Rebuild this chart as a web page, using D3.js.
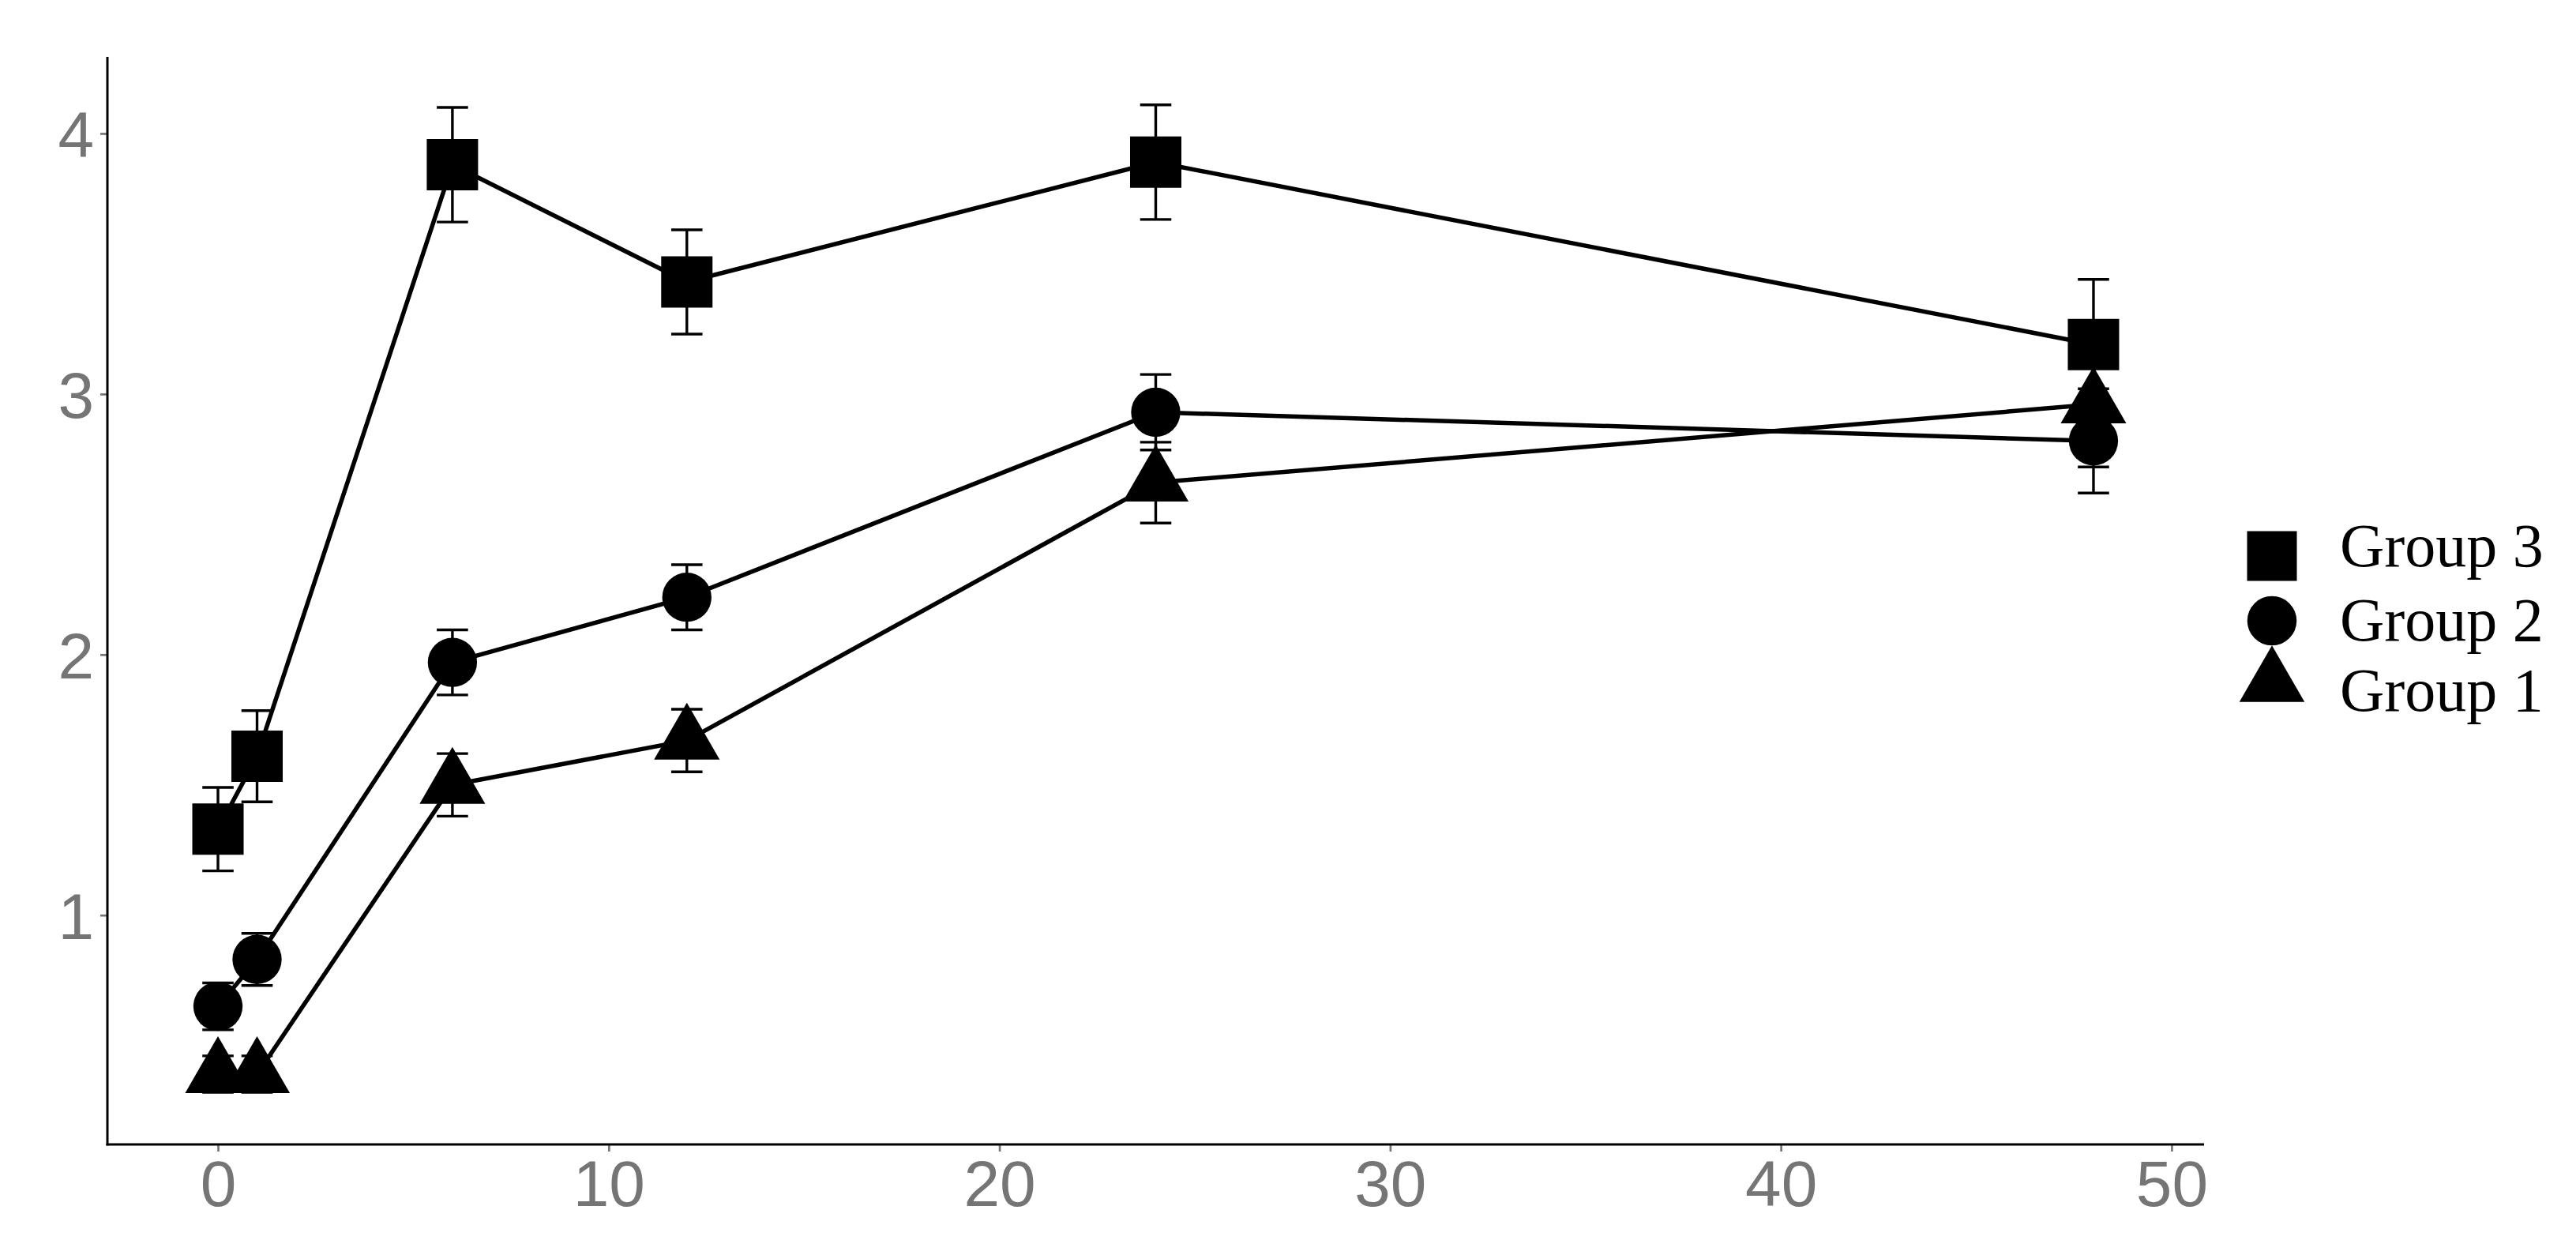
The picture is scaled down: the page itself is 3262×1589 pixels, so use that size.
<!DOCTYPE html>
<html>
<head>
<meta charset="utf-8">
<script src="https://cdn.jsdelivr.net/npm/d3@7"></script>
<style>
  html, body { margin: 0; padding: 0; background: #fff; }
  svg { display: block; }
</style>
</head>
<body>
<svg id="chart"></svg>
<script>
// time points (x) and per-group means / error half-widths
const times = [0, 1, 6, 12, 24, 48];
const groupNames = ['Group 1', 'Group 2', 'Group 3'];
const group1Mean = [0.39, 0.39, 1.50, 1.67, 2.66, 2.96];
const group1Err = [0.07, 0.07, 0.12, 0.12, 0.155, 0.24];
const group2Mean = [0.65, 0.83, 1.97, 2.22, 2.93, 2.82];
const group2Err = [0.09, 0.10, 0.125, 0.125, 0.145, 0.20];
const group3Mean = [1.33, 1.61, 3.88, 3.43, 3.89, 3.19];
const group3Err = [0.16, 0.175, 0.22, 0.20, 0.22, 0.25];
const xTicks = [0, 10, 20, 30, 40, 50];
const yTicks = [1, 2, 3, 4];
const legendOrder = ['Group 3', 'Group 2', 'Group 1'];

const WIDTH = 3262;
const HEIGHT = 1589;
const margin = {top: 72, right: 471, bottom: 140, left: 136},
  width = WIDTH - margin.left - margin.right,
  height = HEIGHT - margin.top - margin.bottom;

const svg = d3.select('#chart')
  .attr('width', WIDTH)
  .attr('height', HEIGHT)
  .attr('viewBox', [0, 0, WIDTH, HEIGHT]);

svg.append('rect').attr('width', WIDTH).attr('height', HEIGHT).attr('fill', '#fff');

const g = svg.append('g')
  .attr('transform', `translate(${margin.left},${margin.top})`);

const means = [group1Mean, group2Mean, group3Mean];
const errs = [group1Err, group2Err, group3Err];
const series = groupNames.map((name, i) => ({
  name,
  values: times.map((t, j) => ({t, v: means[i][j], e: errs[i][j]}))
}));

const x = d3.scaleLinear().domain([-2.83, 50.83]).range([0, width]);
const y = d3.scaleLinear().domain([0.12, 4.294]).range([height, 0]);

const shapes = {
  'Group 1': {type: d3.symbolTriangle, size: 2993},
  'Group 2': {type: d3.symbolCircle, size: 3050},
  'Group 3': {type: d3.symbolSquare, size: 4225}
};

// axes
const tickColor = '#757575';
const xAxis = g.append('g')
  .attr('transform', `translate(0,${height})`)
  .call(d3.axisBottom(x).tickValues(xTicks).tickSize(9).tickPadding(10).tickFormat(d3.format('d')));
const yAxis = g.append('g')
  .call(d3.axisLeft(y).tickValues(yTicks).tickSize(9).tickPadding(8).tickFormat(d3.format('d')));

[xAxis, yAxis].forEach(ax => {
  ax.select('.domain').remove();
  ax.selectAll('.tick line').attr('stroke', tickColor).attr('stroke-width', 2.7);
  ax.selectAll('.tick text')
    .attr('fill', tickColor)
    .style('font-family', '"Liberation Sans", Arial, sans-serif')
    .style('font-size', '82px');
});
xAxis.selectAll('.tick text').attr('dy', '0.72em');
yAxis.selectAll('.tick text').attr('dy', '0.36em');

g.append('line')
  .attr('x1', 0).attr('x2', 0).attr('y1', 0).attr('y2', height + 1.5)
  .attr('stroke', '#000').attr('stroke-width', 3);
g.append('line')
  .attr('x1', -1.5).attr('x2', width).attr('y1', height).attr('y2', height)
  .attr('stroke', '#000').attr('stroke-width', 3);

// connecting lines
const line = d3.line().x(d => x(d.t)).y(d => y(d.v));
g.selectAll('.series-line')
  .data(series)
  .join('path')
  .attr('class', 'series-line')
  .attr('d', d => line(d.values))
  .attr('fill', 'none')
  .attr('stroke', '#000')
  .attr('stroke-width', 5.5)
  .attr('stroke-linejoin', 'round');

// error bars
const capHalf = 0.4;
const bars = g.selectAll('.err')
  .data(series.flatMap(s => s.values))
  .join('g')
  .attr('class', 'err')
  .attr('stroke', '#000')
  .attr('stroke-width', 3.4);
bars.append('line')
  .attr('x1', d => x(d.t)).attr('x2', d => x(d.t))
  .attr('y1', d => y(d.v - d.e)).attr('y2', d => y(d.v + d.e));
bars.append('line')
  .attr('x1', d => x(d.t - capHalf)).attr('x2', d => x(d.t + capHalf))
  .attr('y1', d => y(d.v + d.e)).attr('y2', d => y(d.v + d.e));
bars.append('line')
  .attr('x1', d => x(d.t - capHalf)).attr('x2', d => x(d.t + capHalf))
  .attr('y1', d => y(d.v - d.e)).attr('y2', d => y(d.v - d.e));

// points
series.forEach(s => {
  const sym = d3.symbol().type(shapes[s.name].type).size(shapes[s.name].size);
  g.selectAll(null)
    .data(s.values)
    .join('path')
    .attr('transform', d => `translate(${x(d.t)},${y(d.v)})`)
    .attr('d', sym)
    .attr('fill', '#000');
});

// legend
const legend = svg.append('g').attr('transform', 'translate(2877,0)');
const keyY = {'Group 3': 704, 'Group 2': 786, 'Group 1': 865};
const textY = {'Group 3': 717, 'Group 2': 811, 'Group 1': 900};
const legendSize = {'Group 3': 3969, 'Group 2': 3070, 'Group 1': 2950};
legendOrder.forEach(name => {
  legend.append('path')
    .attr('transform', `translate(0,${keyY[name]})`)
    .attr('d', d3.symbol().type(shapes[name].type).size(legendSize[name]))
    .attr('fill', '#000');
  legend.append('text')
    .attr('x', 86)
    .attr('y', textY[name])
    .text(name)
    .style('font-family', '"Liberation Serif", "Times New Roman", serif')
    .style('font-size', '78px')
    .attr('fill', '#000');
});
</script>
</body>
</html>
